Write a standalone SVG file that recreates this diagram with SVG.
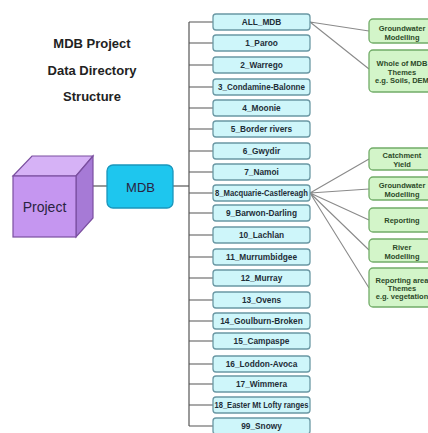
<svg xmlns="http://www.w3.org/2000/svg" width="428" height="433" viewBox="0 0 428 433">
<style>
.title{font-family:"Liberation Sans",Arial,sans-serif;font-weight:bold;font-size:13px;fill:#222;text-anchor:middle}
.big{font-family:"Liberation Sans",Arial,sans-serif;font-size:14px;fill:#2a2340;text-anchor:middle}
.lb{fill:#cef6fa;stroke:#6a98a4;stroke-width:1.3}
.lt{font-family:"Liberation Sans",Arial,sans-serif;font-weight:bold;font-size:8.3px;fill:#1e2e38;text-anchor:middle}
.gb{fill:#d3f5c9;stroke:#72ac68;stroke-width:1.3}
.gt{font-family:"Liberation Sans",Arial,sans-serif;font-weight:bold;font-size:7.5px;fill:#2c4a28;text-anchor:middle}
.ln{stroke:#555;stroke-width:1.2;fill:none}
.gl{stroke:#8a8a8a;stroke-width:1.1;fill:none}
</style>
<rect width="428" height="433" fill="#fff"/>
<g id="title">
<text class="title" x="92" y="48">MDB Project</text>
<text class="title" x="92" y="75">Data Directory</text>
<text class="title" x="92" y="101">Structure</text>
</g>
<g id="connectors">
<line class="ln" x1="93" y1="186" x2="107" y2="186"/>
<line class="ln" x1="173" y1="186" x2="189" y2="186"/>
<line class="ln" x1="189" y1="22" x2="189" y2="426"/>
<path class="ln" d="M189 22H213M189 43H213M189 65H213M189 87H213M189 108H213M189 129H213M189 151H213M189 172H213M189 193H213M189 213H213M189 235H213M189 257H213M189 278H213M189 300H213M189 321H213M189 341H213M189 364H213M189 384H213M189 405H213M189 426H213"/>
<path class="gl" d="M310 22L369 31M310 22L369 69M310 193L369 159M310 193L369 189M310 193L369 220M310 193L369 250M310 193L369 288"/>
</g>
<g id="project">
<polygon points="13,176 32,156 93,156 76,176" fill="#d6b2f6" stroke="#7b4fa0" stroke-width="1.2"/>
<polygon points="76,176 93,156 93,218 76,237" fill="#a67ad6" stroke="#7b4fa0" stroke-width="1.2"/>
<rect x="13" y="176" width="63" height="61" fill="#c596f0" stroke="#7b4fa0" stroke-width="1.2"/>
<text class="big" x="44.5" y="212">Project</text>
</g>
<g id="mdb">
<rect x="107" y="165" width="66" height="43" rx="6" fill="#1ec6ee" stroke="#1a96bc" stroke-width="1.3"/>
<text class="big" x="140.5" y="192" style="font-size:13px">MDB</text>
</g>
<g id="n_all"><rect class="lb" x="213" y="14" width="97" height="16" rx="3"/><text class="lt" x="261.5" y="25">ALL_MDB</text></g>
<g id="n1"><rect class="lb" x="213" y="35" width="97" height="16" rx="3"/><text class="lt" x="261.5" y="46">1_Paroo</text></g>
<g id="n2"><rect class="lb" x="213" y="57" width="97" height="16" rx="3"/><text class="lt" x="261.5" y="68">2_Warrego</text></g>
<g id="n3"><rect class="lb" x="213" y="79" width="97" height="16" rx="3"/><text class="lt" x="261.5" y="90" textLength="87" lengthAdjust="spacingAndGlyphs">3_Condamine-Balonne</text></g>
<g id="n4"><rect class="lb" x="213" y="100" width="97" height="16" rx="3"/><text class="lt" x="261.5" y="111">4_Moonie</text></g>
<g id="n5"><rect class="lb" x="213" y="121" width="97" height="16" rx="3"/><text class="lt" x="261.5" y="132">5_Border rivers</text></g>
<g id="n6"><rect class="lb" x="213" y="143" width="97" height="16" rx="3"/><text class="lt" x="261.5" y="154">6_Gwydir</text></g>
<g id="n7"><rect class="lb" x="213" y="164" width="97" height="16" rx="3"/><text class="lt" x="261.5" y="175">7_Namoi</text></g>
<g id="n8"><rect class="lb" x="213" y="185" width="97" height="16" rx="3"/><text class="lt" x="261.5" y="196" textLength="93" lengthAdjust="spacingAndGlyphs">8_Macquarie-Castlereagh</text></g>
<g id="n9"><rect class="lb" x="213" y="205" width="97" height="16" rx="3"/><text class="lt" x="261.5" y="216">9_Barwon-Darling</text></g>
<g id="n10"><rect class="lb" x="213" y="227" width="97" height="16" rx="3"/><text class="lt" x="261.5" y="238">10_Lachlan</text></g>
<g id="n11"><rect class="lb" x="213" y="249" width="97" height="16" rx="3"/><text class="lt" x="261.5" y="260">11_Murrumbidgee</text></g>
<g id="n12"><rect class="lb" x="213" y="270" width="97" height="16" rx="3"/><text class="lt" x="261.5" y="281">12_Murray</text></g>
<g id="n13"><rect class="lb" x="213" y="292" width="97" height="16" rx="3"/><text class="lt" x="261.5" y="303">13_Ovens</text></g>
<g id="n14"><rect class="lb" x="213" y="313" width="97" height="16" rx="3"/><text class="lt" x="261.5" y="324">14_Goulburn-Broken</text></g>
<g id="n15"><rect class="lb" x="213" y="333" width="97" height="16" rx="3"/><text class="lt" x="261.5" y="344">15_Campaspe</text></g>
<g id="n16"><rect class="lb" x="213" y="356" width="97" height="16" rx="3"/><text class="lt" x="261.5" y="367">16_Loddon-Avoca</text></g>
<g id="n17"><rect class="lb" x="213" y="376" width="97" height="16" rx="3"/><text class="lt" x="261.5" y="387">17_Wimmera</text></g>
<g id="n18"><rect class="lb" x="213" y="397" width="97" height="16" rx="3"/><text class="lt" x="261.5" y="408" textLength="94" lengthAdjust="spacingAndGlyphs">18_Easter Mt Lofty ranges</text></g>
<g id="n99"><rect class="lb" x="213" y="418" width="97" height="16" rx="3"/><text class="lt" x="261.5" y="429">99_Snowy</text></g>
<g id="g_gw1"><rect class="gb" x="369" y="19" width="72" height="24" rx="4"/><text class="gt" x="402" y="31">Groundwater</text><text class="gt" x="402" y="40">Modelling</text></g>
<g id="g_whole"><rect class="gb" x="369" y="50" width="72" height="42" rx="4"/><text class="gt" x="402" y="66">Whole of MDB</text><text class="gt" x="402" y="74.5">Themes</text><text class="gt" x="402" y="82.5">e.g. Soils, DEM</text></g>
<g id="g_catch"><rect class="gb" x="369" y="148" width="72" height="22" rx="4"/><text class="gt" x="402" y="158">Catchment</text><text class="gt" x="402" y="167">Yield</text></g>
<g id="g_gw2"><rect class="gb" x="369" y="177" width="72" height="23" rx="4"/><text class="gt" x="402" y="188">Groundwater</text><text class="gt" x="402" y="196.5">Modelling</text></g>
<g id="g_rep"><rect class="gb" x="369" y="208" width="72" height="24" rx="4"/><text class="gt" x="402" y="223">Reporting</text></g>
<g id="g_river"><rect class="gb" x="369" y="239" width="72" height="23" rx="4"/><text class="gt" x="402" y="250">River</text><text class="gt" x="402" y="259">Modelling</text></g>
<g id="g_reparea"><rect class="gb" x="369" y="268" width="72" height="39" rx="4"/><text class="gt" x="402" y="283">Reporting area</text><text class="gt" x="402" y="291">Themes</text><text class="gt" x="402" y="299">e.g. vegetation</text></g>
</svg>
